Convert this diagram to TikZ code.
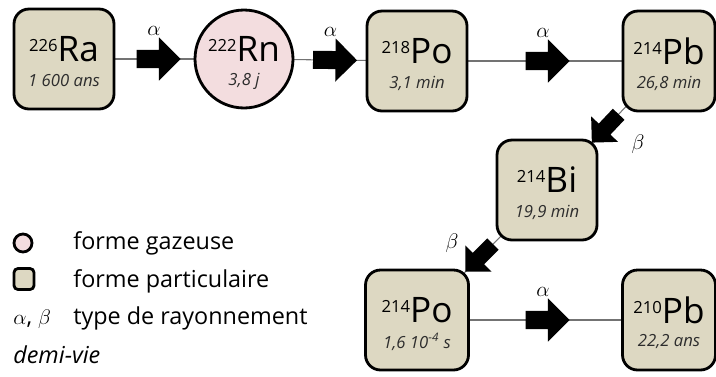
\documentclass[tikz,border=0pt]{standalone}
\usepackage{fontspec}
\setmainfont{Open Sans}
\usetikzlibrary{shapes.arrows,backgrounds}
\definecolor{sable}{RGB}{221,216,194}
\definecolor{rose}{RGB}{243,221,223}
\definecolor{fil}{RGB}{115,115,115}
\definecolor{encre}{RGB}{45,45,45}
\newcommand{\nuclide}[2]{\raisebox{0.2cm}{\fontsize{9.5}{10}\selectfont #1}#2}

\begin{document}
\begin{tikzpicture}[x=0.02cm,y=-0.02cm,
	solide/.style={draw=black, line width=1.6pt, fill=sable, rounded corners=0.3cm, minimum width=2cm, minimum height=2cm, inner sep=0pt},
	gaz/.style={circle, draw=black, line width=1.6pt, fill=rose, minimum size=1.96cm, inner sep=0pt},
	nom/.style={font=\fontsize{20}{22}\selectfont, inner sep=0pt},
	vie/.style={font=\fontsize{9.5}{11}\selectfont\itshape, text=encre, inner sep=0pt},
	lien/.style={draw=fil, line width=0.6pt},
	desint/.style={single arrow, fill=black, inner xsep=0pt, inner ysep=0.17cm, single arrow head extend=0.25cm, minimum height=0.88cm, minimum width=0.66cm, sloped, allow upside down},
	desintb/.style={desint, inner ysep=0.15cm, single arrow head extend=0.21cm, minimum height=0.78cm, minimum width=0.56cm},
	grec/.style={font=\fontsize{13}{15}\selectfont, inner sep=0pt},
	legende/.style={font=\fontsize{13.3}{15}\selectfont, anchor=west, inner sep=0pt}]
	\useasboundingbox (0,0) rectangle (716,376);
	% la chaine de desintegration
	\node[solide, label={[nom, yshift=0.2cm]center:\nuclide{226}{Ra}}, label={[vie, yshift=-0.44cm]center:{1 600 ans}}] (ra) at (64,59) {};
	\node[gaz, label={[nom, yshift=0.2cm]center:\nuclide{222}{Rn}}, label={[vie, yshift=-0.44cm]center:{3,8 j}}] (rn) at (244,59) {};
	\node[solide, label={[nom, yshift=0.2cm]center:\nuclide{218}{Po}}, label={[vie, yshift=-0.44cm]center:{3,1 min}}] (poa) at (417,61) {};
	\node[solide, minimum width=1.84cm, label={[nom, yshift=0.2cm]center:\nuclide{214}{Pb}}, label={[vie, yshift=-0.44cm]center:{26,8 min}}] (pba) at (669,61) {};
	\node[solide, label={[nom, yshift=0.2cm]center:\nuclide{214}{Bi}}, label={[vie, yshift=-0.44cm]center:{19,9 min}}] (bi) at (547,190) {};
	\node[solide, minimum width=2.06cm, label={[nom, yshift=0.2cm]center:\nuclide{214}{Po}}, label={[vie, yshift=-0.44cm]center:{1,6 10\textsuperscript{-4} s}}] (pob) at (417,320) {};
	\node[solide, minimum width=1.86cm, label={[nom, yshift=0.2cm]center:\nuclide{210}{Pb}}, label={[vie, yshift=-0.44cm]center:{22,2 ans}}] (pbb) at (669,320) {};
	\begin{scope}[on background layer]
		\draw[lien] (ra.center) -- node[desint] (d1) {} (rn.center);
		\draw[lien] (rn.center) -- node[desint] (d2) {} (poa.center);
		\draw[lien] (poa.center) -- node[desint] (d3) {} (pba.center);
		\draw[lien] (pba.center) -- node[desintb] (d4) {} (bi.center);
		\draw[lien] (bi.center) -- node[desintb] (d5) {} (pob.center);
		\draw[lien] (pob.center) -- node[desint] (d6) {} (pbb.center);
	\end{scope}
	\node[grec] (g1) at ([yshift=0.56cm]d1.center) {$\alpha$};
	\node[grec] (g2) at ([yshift=0.56cm]d2.center) {$\alpha$};
	\node[grec] (g3) at ([yshift=0.56cm]d3.center) {$\alpha$};
	\node[grec] (g4) at ([xshift=0.6cm,yshift=-0.37cm]d4.center) {$\beta$};
	\node[grec] (g5) at ([xshift=-0.6cm,yshift=0.24cm]d5.center) {$\beta$};
	\node[grec] (g6) at ([yshift=0.56cm]d6.center) {$\alpha$};
	% legende
	\node[gaz, minimum size=0.36cm] (lgaz) at (23,243) {};
	\node[legende] (tgaz) at (73,243) {forme gazeuse};
	\node[solide, minimum width=0.4cm, minimum height=0.42cm, rounded corners=0.08cm] (lsol) at (24,279) {};
	\node[legende] (tsol) at (73,281) {forme particulaire};
	\node[legende] (tray) at (13,318) {\makebox[1.2cm][l]{\fontsize{13}{15}\selectfont$\alpha$, $\beta$}type de rayonnement};
	\node[legende, font=\fontsize{13.3}{15}\selectfont\itshape] (tvie) at (13,355) {demi-vie};
\end{tikzpicture}
\end{document}
